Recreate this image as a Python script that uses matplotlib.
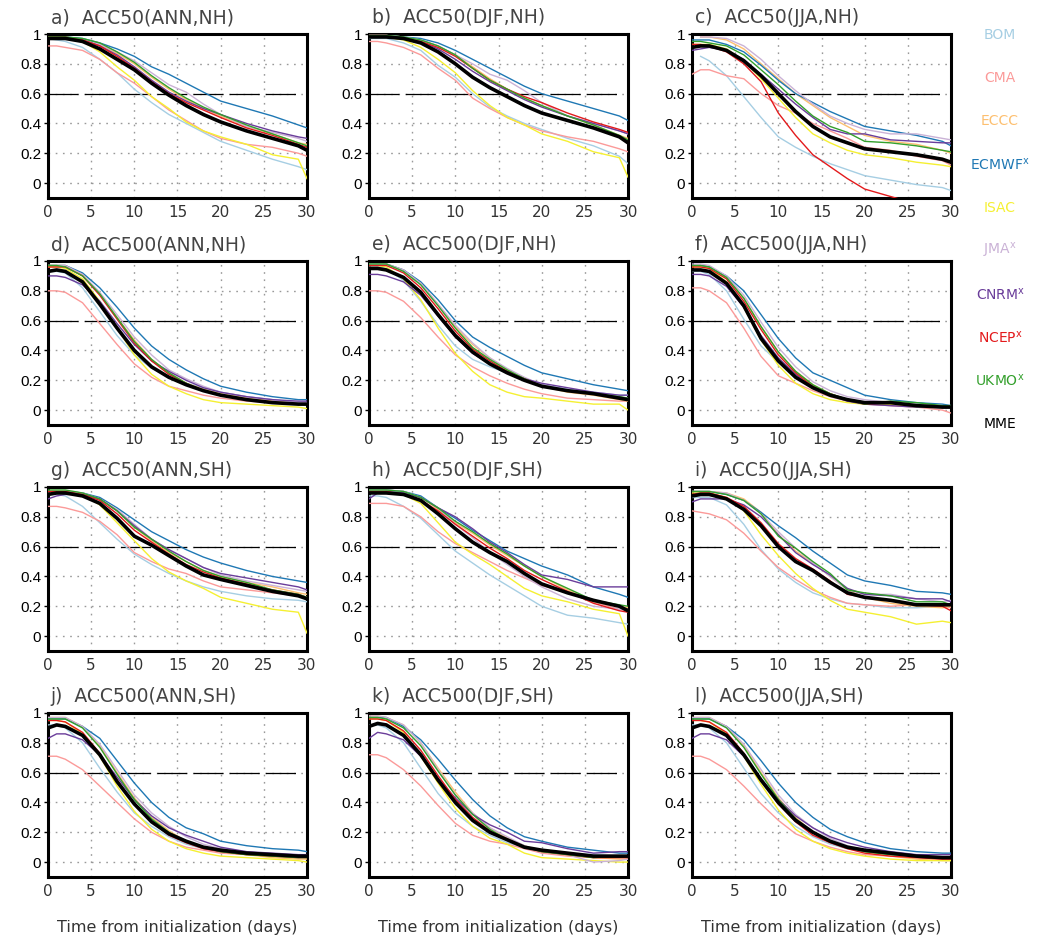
import numpy as np
import matplotlib.pyplot as plt

nan = np.nan
days = [0, 1, 2, 4, 6, 8, 10, 12, 14, 16, 18, 20, 23, 26, 29, 30]
models = ['BOM', 'CMA', 'ECCC', 'ECMWF', 'ISAC', 'JMA', 'CNRM', 'NCEP', 'UKMO', 'MME']
legend_labels = ['BOM', 'CMA', 'ECCC', r'ECMWF$^{\mathsf{x}}$', 'ISAC', r'JMA$^{\mathsf{x}}$',
                 r'CNRM$^{\mathsf{x}}$', r'NCEP$^{\mathsf{x}}$', r'UKMO$^{\mathsf{x}}$', 'MME']
colors = ['#a6cee3', '#fb9a99', '#fdbf6f', '#1f78b4', '#f5f032', '#cab2d6',
          '#6a3d9a', '#e31a1c', '#33a02c', 'black']
titles = ['a)  ACC50(ANN,NH)', 'b)  ACC50(DJF,NH)', 'c)  ACC50(JJA,NH)',
          'd)  ACC500(ANN,NH)', 'e)  ACC500(DJF,NH)', 'f)  ACC500(JJA,NH)',
          'g)  ACC50(ANN,SH)', 'h)  ACC50(DJF,SH)', 'i)  ACC50(JJA,SH)',
          'j)  ACC500(ANN,SH)', 'k)  ACC500(DJF,SH)', 'l)  ACC500(JJA,SH)']

# rows: BOM, CMA, ECCC, ECMWF, ISAC, JMA, CNRM, NCEP, UKMO, MME
acc50_ann_nh = [
    [.97, .96, .95, .91, .83, .74, .63, .54, .46, .40, .34, .28, .22, .16, .11, .09],
    [.92, .92, .91, .89, .83, .74, .67, .58, .49, .42, .35, .30, .26, .24, .20, .18],
    [.98, .98, .98, .96, .93, .87, .80, .71, .63, .56, .50, .45, .38, .33, .27, .26],
    [.98, .98, .98, .97, .94, .90, .85, .78, .73, .67, .61, .55, .50, .45, .39, .37],
    [.97, .97, .97, .95, .88, .78, .69, .58, .50, .41, .35, .31, .26, .19, .16, .03],
    [.98, .98, .98, .96, .93, .88, .82, .74, .66, .61, .53, .46, .38, .34, .30, .28],
    [.97, .97, .97, .96, .92, .86, .78, .69, .61, .55, .50, .46, .40, .35, .31, .30],
    [.98, .98, .98, .96, .92, .85, .77, .68, .60, .54, .49, .44, .37, .32, .26, .24],
    [.98, .98, .98, .97, .94, .88, .81, .72, .64, .57, .51, .46, .39, .33, .27, .25],
    [.97, .97, .97, .95, .90, .83, .76, .67, .59, .52, .46, .41, .35, .30, .25, .22],
]
acc50_djf_nh = [
    [.97, .97, .97, .94, .89, .79, .71, .60, .51, .45, .40, .36, .30, .25, .18, .13],
    [.95, .95, .94, .91, .86, .77, .69, .57, .50, .44, .39, .35, .31, .28, .23, .21],
    [.99, .99, .99, .98, .96, .92, .86, .78, .70, .63, .57, .52, .45, .39, .32, .30],
    [.99, .99, .99, .98, .97, .94, .89, .83, .77, .71, .65, .60, .55, .50, .45, .42],
    [.98, .98, .98, .96, .91, .83, .74, .62, .52, .44, .39, .33, .28, .21, .17, .04],
    [.99, .99, .99, .98, .96, .92, .86, .80, .73, .69, .62, .54, .45, .40, .35, .33],
    [.99, .99, .99, .97, .95, .90, .83, .75, .68, .62, .56, .51, .45, .40, .35, .33],
    [.99, .99, .99, .97, .95, .91, .85, .77, .69, .63, .58, .54, .47, .41, .36, .34],
    [.99, .99, .99, .98, .96, .92, .86, .77, .69, .63, .57, .52, .45, .39, .32, .29],
    [.98, .98, .98, .97, .94, .88, .80, .71, .64, .58, .52, .47, .42, .37, .31, .27],
]
acc50_jja_nh = [
    [nan, .85, .82, .72, .58, .44, .31, .24, .18, .13, .09, .05, .02, -.01, -.03, -.05],
    [.73, .76, .76, .72, .70, .60, .52, .47, .40, .35, .30, .24, .22, .18, .15, .12],
    [nan, .98, .98, .96, .90, .80, .70, .60, .52, .44, .38, .32, .28, .26, .22, .20],
    [.96, .96, .96, .93, .88, .79, .69, .60, .54, .48, .43, .38, .35, .32, .28, .25],
    [.93, .93, .93, .90, .82, .70, .57, .44, .33, .27, .22, .19, .17, .14, .12, .11],
    [nan, .98, .98, .97, .92, .83, .72, .62, .53, .45, .40, .36, .33, .33, .30, .29],
    [.89, .90, .91, .89, .83, .73, .63, .53, .44, .36, .33, .33, .29, .28, .27, .27],
    [.93, .93, .92, .88, .80, .68, .47, .32, .19, .11, .03, -.04, -.09, -.14, -.17, -.18],
    [.95, .95, .94, .92, .86, .76, .66, .55, .45, .38, .34, .28, .27, .25, .22, .21],
    [.91, .92, .92, .89, .82, .72, .60, .48, .38, .31, .27, .23, .21, .19, .16, .14],
]
acc500_ann_nh = [
    [.93, .93, .92, .82, .66, .50, .37, .28, .22, .18, .15, .12, .09, .07, .05, .05],
    [.80, .80, .79, .72, .58, .44, .31, .22, .16, .13, .10, .08, .06, .05, .04, .04],
    [.97, .97, .97, .91, .78, .62, .47, .34, .25, .18, .14, .11, .08, .06, .05, .04],
    [.97, .97, .97, .92, .82, .69, .55, .43, .34, .27, .21, .16, .12, .09, .07, .07],
    [.96, .96, .95, .88, .73, .55, .37, .24, .16, .11, .07, .05, .04, .03, .02, .01],
    [.97, .97, .97, .91, .79, .64, .49, .37, .27, .21, .16, .12, .09, .07, .05, .05],
    [.90, .90, .89, .84, .73, .58, .44, .33, .26, .20, .15, .12, .09, .07, .06, .06],
    [.96, .96, .96, .90, .77, .61, .45, .33, .24, .18, .13, .10, .07, .05, .04, .04],
    [.97, .97, .96, .90, .78, .62, .46, .34, .25, .18, .13, .10, .07, .05, .04, .04],
    [.93, .94, .93, .86, .71, .55, .40, .29, .22, .17, .13, .10, .07, .05, .04, .04],
]
acc500_djf_nh = [
    [.96, .96, .95, .87, .73, .57, .43, .34, .29, .25, .21, .17, .14, .12, .10, .10],
    [.80, .80, .79, .73, .62, .49, .37, .29, .23, .18, .14, .11, .08, .07, .06, .06],
    [.98, .98, .98, .94, .85, .71, .56, .44, .35, .27, .21, .16, .12, .10, .07, .06],
    [.98, .98, .98, .94, .86, .74, .60, .49, .42, .36, .30, .25, .21, .17, .14, .13],
    [.97, .97, .96, .88, .74, .55, .38, .26, .17, .12, .09, .08, .06, .04, .04, .00],
    [.98, .98, .98, .94, .85, .71, .57, .45, .35, .28, .22, .17, .13, .11, .09, .08],
    [.91, .91, .90, .86, .77, .63, .49, .38, .31, .26, .21, .18, .15, .12, .10, .10],
    [.97, .97, .97, .92, .82, .68, .53, .41, .33, .26, .21, .16, .13, .11, .08, .07],
    [.98, .98, .98, .93, .84, .70, .55, .42, .34, .27, .21, .16, .13, .11, .09, .08],
    [.95, .95, .94, .89, .79, .64, .50, .39, .31, .25, .20, .16, .13, .11, .08, .07],
]
acc500_jja_nh = [
    [.93, .93, .91, .80, .61, .43, .32, .24, .16, .11, .07, .04, .03, .02, .02, .02],
    [.82, .82, .80, .72, .55, .36, .23, .18, .13, .09, .06, .04, .03, .02, .00, -.02],
    [.97, .97, .96, .89, .75, .56, .39, .26, .17, .11, .07, .05, .04, .03, .02, .02],
    [.97, .97, .96, .90, .80, .64, .48, .35, .25, .20, .15, .10, .07, .05, .04, .03],
    [.96, .96, .95, .86, .69, .47, .30, .18, .11, .07, .05, .04, .04, .02, .02, .02],
    [.98, .98, .97, .90, .77, .59, .42, .29, .19, .13, .09, .07, .05, .04, .03, .03],
    [.91, .91, .90, .83, .69, .50, .35, .24, .15, .10, .06, .04, .03, .02, .02, .02],
    [.96, .96, .95, .88, .73, .54, .37, .25, .16, .11, .07, .04, .05, .03, .02, .02],
    [.97, .97, .96, .89, .75, .56, .39, .26, .17, .11, .07, .04, .06, .05, .03, .03],
    [.94, .94, .93, .85, .70, .48, .33, .22, .15, .10, .07, .05, .05, .03, .02, .02],
]
acc50_ann_sh = [
    [.95, .95, .94, .87, .76, .65, .55, .48, .42, .37, .33, .30, .27, .25, .24, .23],
    [.87, .87, .86, .83, .77, .68, .56, .50, .45, .42, .37, .33, .31, .29, .27, .26],
    [.97, .97, .97, .96, .92, .84, .73, .64, .56, .50, .44, .40, .36, .33, .29, .28],
    [.97, .97, .97, .96, .93, .86, .78, .70, .64, .58, .53, .49, .44, .40, .37, .36],
    [.97, .97, .97, .95, .88, .76, .64, .52, .43, .37, .32, .26, .22, .18, .16, .02],
    [.97, .97, .97, .96, .92, .85, .75, .65, .58, .52, .46, .41, .37, .34, .31, .30],
    [.92, .94, .95, .95, .92, .84, .74, .65, .58, .52, .46, .42, .39, .36, .33, .31],
    [.97, .97, .97, .95, .91, .82, .71, .63, .55, .48, .43, .39, .35, .31, .28, .26],
    [.98, .98, .98, .96, .92, .84, .73, .65, .57, .50, .44, .40, .36, .31, .28, .26],
    [.95, .96, .96, .94, .89, .79, .67, .61, .54, .47, .41, .38, .34, .30, .27, .25],
]
acc50_djf_sh = [
    [.94, .94, .93, .87, .79, .68, .57, .49, .41, .34, .27, .20, .14, .12, .09, .08],
    [.89, .89, .89, .87, .80, .70, .62, .56, .50, .44, .39, .34, .29, .23, .18, .17],
    [.98, .98, .98, .97, .93, .85, .76, .69, .61, .54, .47, .40, .31, .23, .20, .19],
    [.98, .98, .98, .97, .94, .86, .79, .71, .64, .57, .52, .47, .41, .33, .28, .26],
    [.97, .97, .97, .95, .89, .76, .63, .55, .48, .40, .32, .27, .23, .18, .15, .00],
    [.98, .98, .98, .97, .93, .86, .75, .66, .56, .48, .40, .33, .25, .20, .18, .18],
    [.92, .96, .97, .96, .93, .86, .80, .72, .63, .56, .48, .41, .38, .33, .33, .33],
    [.97, .97, .97, .95, .91, .84, .75, .67, .59, .52, .44, .38, .30, .22, .17, .16],
    [.98, .98, .98, .97, .93, .86, .77, .70, .62, .55, .47, .40, .32, .24, .21, .20],
    [.96, .96, .96, .95, .91, .82, .72, .63, .56, .50, .42, .35, .29, .24, .20, .17],
]
acc50_jja_sh = [
    [.93, .93, .93, .88, .75, .58, .45, .36, .29, .25, .22, .21, .19, .19, .20, .20],
    [.84, .83, .82, .78, .69, .57, .46, .38, .31, .26, .22, .21, .20, .21, .20, .19],
    [.97, .97, .97, .96, .92, .83, .68, .57, .49, .40, .31, .26, .22, .20, .19, .20],
    [.97, .97, .97, .95, .91, .83, .74, .66, .57, .49, .41, .37, .34, .30, .29, .28],
    [.96, .96, .96, .93, .84, .68, .54, .42, .32, .24, .18, .16, .13, .08, .10, .09],
    [.97, .97, .97, .96, .91, .82, .70, .59, .49, .40, .31, .28, .28, .25, .23, .24],
    [.90, .92, .92, .92, .88, .80, .68, .56, .48, .41, .32, .28, .27, .25, .25, .23],
    [.95, .96, .96, .93, .87, .76, .62, .52, .45, .37, .28, .26, .24, .21, .20, .17],
    [.97, .97, .97, .95, .91, .82, .67, .59, .50, .42, .31, .29, .27, .23, .23, .21],
    [.94, .95, .95, .92, .85, .74, .60, .50, .44, .36, .29, .26, .24, .21, .21, .21],
]
acc500_ann_sh = [
    [.92, .92, .90, .80, .63, .47, .33, .24, .17, .12, .09, .07, .05, .04, .03, .03],
    [.71, .71, .69, .62, .51, .40, .29, .20, .14, .10, .08, .06, .05, .04, .03, .03],
    [.97, .97, .97, .91, .78, .60, .43, .30, .21, .14, .10, .07, .05, .03, .02, .02],
    [.96, .96, .96, .91, .83, .68, .53, .40, .30, .23, .19, .14, .11, .09, .08, .07],
    [.95, .95, .94, .86, .71, .51, .34, .22, .14, .09, .06, .04, .03, .02, .01, .00],
    [.97, .97, .97, .91, .79, .62, .45, .33, .24, .17, .12, .09, .07, .05, .04, .04],
    [.83, .86, .86, .82, .72, .57, .42, .31, .23, .18, .14, .10, .07, .06, .05, .05],
    [.95, .95, .94, .87, .73, .55, .39, .27, .18, .13, .09, .07, .05, .04, .03, .03],
    [.96, .96, .96, .90, .77, .59, .42, .29, .20, .14, .10, .07, .05, .04, .03, .03],
    [.90, .92, .91, .85, .72, .54, .39, .27, .19, .14, .10, .08, .06, .05, .04, .04],
]
acc500_djf_sh = [
    [.92, .92, .90, .80, .63, .46, .33, .24, .18, .13, .10, .08, .06, .05, .04, .04],
    [.72, .72, .70, .62, .51, .38, .26, .18, .14, .12, .09, .06, .04, .03, .03, .03],
    [.98, .98, .97, .92, .80, .63, .47, .33, .23, .16, .11, .07, .05, .03, .02, .02],
    [.97, .97, .97, .91, .82, .69, .55, .42, .31, .23, .17, .14, .10, .08, .06, .06],
    [.96, .96, .95, .87, .71, .53, .36, .24, .16, .12, .06, .03, .02, .01, .00, .00],
    [.98, .98, .97, .92, .80, .62, .45, .33, .23, .17, .11, .07, .05, .00, .01, .02],
    [.83, .87, .86, .82, .71, .56, .43, .32, .25, .20, .14, .13, .09, .06, .07, .07],
    [.96, .96, .95, .88, .75, .58, .42, .30, .21, .15, .10, .07, .05, .03, .03, .03],
    [.97, .97, .96, .90, .78, .61, .45, .32, .22, .15, .10, .07, .05, .03, .04, .04],
    [.91, .93, .92, .85, .72, .55, .40, .28, .20, .15, .10, .08, .06, .04, .04, .04],
]
acc500_jja_sh = [
    [.92, .92, .90, .80, .63, .46, .33, .24, .17, .12, .09, .07, .05, .04, .03, .03],
    [.71, .71, .69, .62, .51, .39, .28, .19, .14, .10, .07, .05, .04, .03, .02, .02],
    [.97, .97, .97, .91, .78, .60, .43, .30, .20, .14, .10, .07, .04, .02, .01, .01],
    [.96, .96, .96, .91, .82, .68, .53, .40, .30, .22, .17, .13, .09, .07, .06, .06],
    [.95, .95, .94, .86, .71, .52, .35, .22, .14, .09, .06, .04, .02, .01, .01, .01],
    [.97, .97, .97, .91, .79, .62, .45, .32, .23, .16, .11, .08, .05, .04, .03, .03],
    [.83, .86, .86, .82, .71, .56, .42, .31, .23, .17, .13, .10, .07, .05, .05, .05],
    [.95, .95, .94, .87, .73, .55, .39, .27, .18, .13, .09, .06, .04, .03, .02, .02],
    [.96, .96, .96, .90, .77, .59, .42, .29, .20, .14, .10, .07, .05, .04, .03, .03],
    [.90, .92, .91, .85, .72, .55, .40, .28, .20, .14, .10, .08, .06, .04, .03, .03],
]

panels = [acc50_ann_nh, acc50_djf_nh, acc50_jja_nh,
          acc500_ann_nh, acc500_djf_nh, acc500_jja_nh,
          acc50_ann_sh, acc50_djf_sh, acc50_jja_sh,
          acc500_ann_sh, acc500_djf_sh, acc500_jja_sh]

W, H = 1042, 940
fig = plt.figure(figsize=(W / 100, H / 100), dpi=100)

col_left = [48, 369, 692]
row_top = [34, 261, 487, 713]
pw, ph = 259, 164

for i, (title, data) in enumerate(zip(titles, panels)):
    r, c = divmod(i, 3)
    ax = fig.add_axes([col_left[c] / W, 1 - (row_top[r] + ph) / H, pw / W, ph / H])
    for k in range(len(models)):
        if models[k] == 'MME':
            ax.plot(days, data[k], color=colors[k], lw=2.6, zorder=5)
        else:
            ax.plot(days, data[k], color=colors[k], lw=1.0, zorder=3)
    ax.hlines(0.6, 0, 29, colors='black', lw=0.9, linestyles=(0, (24, 5)), zorder=2)
    ax.set_xlim(0, 30)
    ax.set_ylim(-0.1, 1)
    ax.set_xticks([0, 5, 10, 15, 20, 25, 30])
    ax.set_yticks([0, 0.2, 0.4, 0.6, 0.8, 1])
    ax.set_yticklabels(['0', '0.2', '0.4', '0.6', '0.8', '1'],
                       fontfamily='Liberation Sans', fontsize=11)
    ax.tick_params(axis='x', labelsize=11, labelcolor='#333333', length=0, pad=5)
    ax.tick_params(axis='y', length=3, width=1, pad=2)
    for s in ax.spines.values():
        s.set_linewidth(2.2)
    for x in [5, 10, 15, 20, 25]:
        ax.axvline(x, color='#999999', lw=1, ls=(0, (1.2, 4)), zorder=1)
    for y in [0, 0.2, 0.4, 0.6, 0.8]:
        ax.axhline(y, color='#999999', lw=1, ls=(0, (1.2, 4)), zorder=1)
    ax.text(0.01, 1.04, title, transform=ax.transAxes, ha='left', va='bottom',
            fontsize=13.5, color='#444444')
    if r == 3:
        ax.text(0.5, -0.305, 'Time from initialization (days)', transform=ax.transAxes,
                ha='center', va='center', fontsize=11.5, color='#333333')

for k, lab in enumerate(legend_labels):
    fig.text(1000 / W, 1 - (35 + 43.2 * k) / H, lab, ha='center', va='center',
             fontsize=10, color=colors[k])

fig.savefig('out.png', dpi=100)
